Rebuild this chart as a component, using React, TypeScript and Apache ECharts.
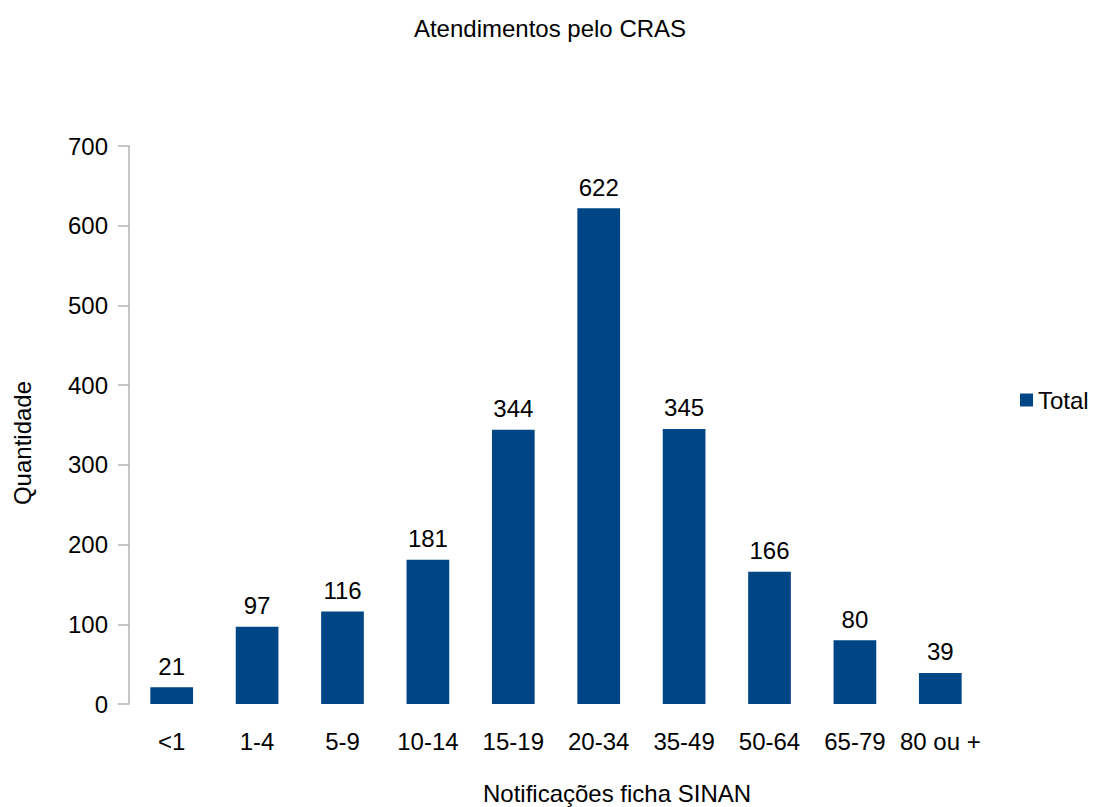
import React, { useEffect, useRef } from "react";
import * as echarts from "echarts";

const categories = ["<1", "1-4", "5-9", "10-14", "15-19", "20-34", "35-49", "50-64", "65-79", "80 ou +"];
const totals = [21, 97, 116, 181, 344, 622, 345, 166, 80, 39];
const yTicks = { min: 0, max: 700, interval: 100 };

export default function App() {
  const ref = useRef<HTMLDivElement>(null);
  useEffect(() => {
    if (!ref.current) return;
    const chart = echarts.init(ref.current, null, { renderer: "svg" });
    const font = "'Liberation Sans', Arial, sans-serif";
    chart.setOption({
      animation: false,
      backgroundColor: "#ffffff",
      textStyle: { fontFamily: font, color: "#000" },
      title: {
        text: "Atendimentos pelo CRAS",
        left: 550,
        textAlign: "center",
        top: 16,
        padding: 0,
        textStyle: { fontFamily: font, fontSize: 24, fontWeight: "normal", color: "#000" },
      },
      legend: {
        data: ["Total"],
        left: 1020,
        top: 388,
        padding: 0,
        itemWidth: 13,
        itemHeight: 13,
        itemGap: 8,
        icon: "rect",
        textStyle: { fontFamily: font, fontSize: 24, color: "#000", padding: [0, 0, 0, 0] },
      },
      grid: { left: 129, right: 1099 - 983, top: 146, bottom: 807 - 704, containLabel: false },
      xAxis: {
        type: "category",
        data: categories,
        axisLine: { show: false },
        axisTick: { show: false },
        axisLabel: { fontFamily: font, fontSize: 24, color: "#000", margin: 25, interval: 0 },
      },
      yAxis: {
        type: "value",
        min: yTicks.min,
        max: yTicks.max,
        interval: yTicks.interval,
        axisLine: { show: true, lineStyle: { color: "#b3b3b3", width: 1.5 } },
        axisTick: { show: true, length: 11, lineStyle: { color: "#b3b3b3", width: 1.5 } },
        axisLabel: { fontFamily: font, fontSize: 24, color: "#000", margin: 21 },
        splitLine: { show: false },
      },
      graphic: [
        {
          type: "text",
          x: 617,
          y: 805,
          style: {
            text: "Notificações ficha SINAN",
            fontFamily: font,
            fontSize: 24,
            fill: "#000",
            textAlign: "center",
            textVerticalAlign: "bottom",
          },
        },
        {
          type: "text",
          x: 22,
          y: 443,
          rotation: Math.PI / 2,
          style: {
            text: "Quantidade",
            fontFamily: font,
            fontSize: 24,
            fill: "#000",
            textAlign: "center",
            textVerticalAlign: "middle",
          },
        },
      ],
      series: [
        {
          name: "Total",
          type: "bar",
          data: totals,
          barWidth: "50%",
          itemStyle: { color: "#004586" },
          label: {
            show: true,
            position: "top",
            distance: 9,
            fontFamily: font,
            fontSize: 24,
            color: "#000",
          },
        },
      ],
    });
    return () => chart.dispose();
  }, []);
  return <div ref={ref} style={{ width: 1099, height: 807, position: "absolute", left: 0, top: 0 }} />;
}
